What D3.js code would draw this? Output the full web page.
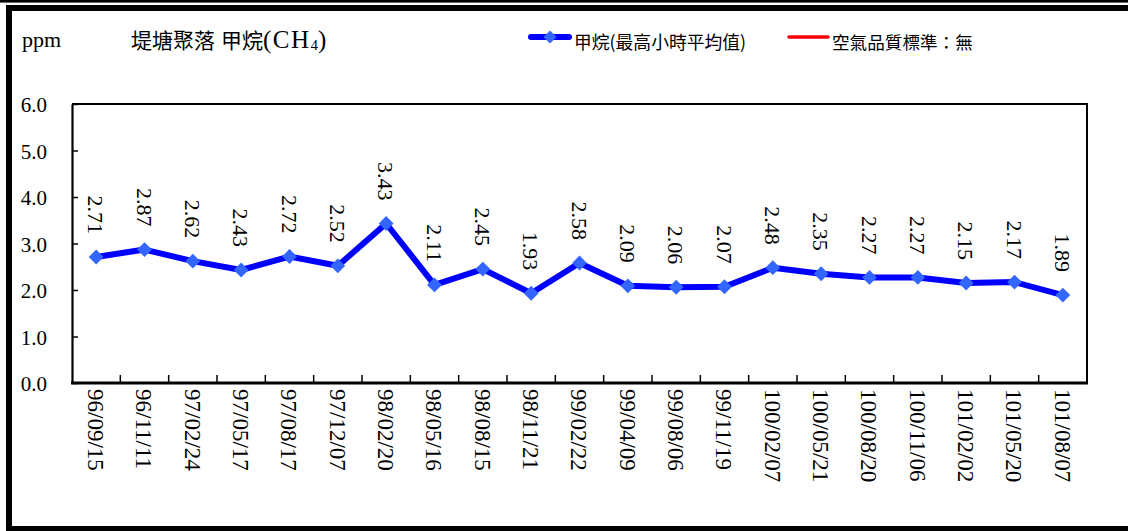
<!DOCTYPE html>
<html>
<head>
<meta charset="utf-8">
<script src="https://cdn.jsdelivr.net/npm/d3@7"></script>
<style>
  html, body { margin: 0; padding: 0; background: #fff; }
  svg { display: block; }
</style>
</head>
<body>
<svg id="chart" width="1128" height="531"></svg>
<script>
// Sampling dates (ROC calendar) and hourly-max methane readings, ppm
const dates = [
  "96/09/15", "96/11/11", "97/02/24", "97/05/17", "97/08/17", "97/12/07",
  "98/02/20", "98/05/16", "98/08/15", "98/11/21", "99/02/22", "99/04/09",
  "99/08/06", "99/11/19", "100/02/07", "100/05/21", "100/08/20", "100/11/06",
  "101/02/02", "101/05/20", "101/08/07"
];
const methane = [
  2.71, 2.87, 2.62, 2.43, 2.72, 2.52,
  3.43, 2.11, 2.45, 1.93, 2.58, 2.09,
  2.06, 2.07, 2.48, 2.35, 2.27, 2.27,
  2.15, 2.17, 1.89
];
const yTicks = [0, 1, 2, 3, 4, 5, 6];
const legendLabels = ["甲烷(最高小時平均值)", "空氣品質標準：無"];

const svg = d3.select("#chart");
const serif = "'Liberation Serif', 'Times New Roman', serif";
const cjk = "'Noto Sans CJK TC', 'Noto Sans CJK SC', sans-serif";

// Outer frame
svg.append("rect").attr("x", 0).attr("y", 0).attr("width", 1128).attr("height", 2.6).attr("fill", "#000");
svg.append("rect")
  .attr("x", 9).attr("y", 8).attr("width", 1140).attr("height", 521)
  .attr("fill", "none").attr("stroke", "#000").attr("stroke-width", 6);

// Plot area
const plot = { left: 72, right: 1087, top: 104, bottom: 383 };

const x = d3.scaleBand().domain(dates).range([plot.left, plot.right]).padding(0);
const y = d3.scaleLinear().domain([0, 6]).range([plot.bottom, plot.top]);

// Plot frame (top and right)
svg.append("path")
  .attr("d", `M${plot.left},${plot.top}H${plot.right}V${plot.bottom}`)
  .attr("fill", "none").attr("stroke", "#000").attr("stroke-width", 2);

// Y axis
const yAxis = svg.append("g")
  .attr("transform", `translate(${plot.left},0)`)
  .call(d3.axisLeft(y).tickValues(yTicks).tickFormat(d3.format(".1f")).tickSizeInner(-6).tickSizeOuter(0).tickPadding(25));
yAxis.select(".domain").attr("stroke-width", 2.2);
yAxis.selectAll(".tick line").attr("stroke-width", 1.5);
yAxis.selectAll(".tick text")
  .attr("font-family", serif).attr("font-size", 21).attr("fill", "#000").attr("dy", "0.36em");

// X axis: ticks sit on the band boundaries, pointing up into the plot
const xAxisG = svg.append("g").attr("transform", `translate(0,${plot.bottom})`);
xAxisG.append("line")
  .attr("x1", plot.left - 1).attr("x2", plot.right + 1)
  .attr("stroke", "#000").attr("stroke-width", 3);
xAxisG.selectAll("line.tick")
  .data(dates.slice(1))
  .join("line")
  .attr("class", "tick")
  .attr("x1", d => x(d)).attr("x2", d => x(d))
  .attr("y1", 0).attr("y2", -8)
  .attr("stroke", "#000").attr("stroke-width", 1.5);
xAxisG.selectAll("text")
  .data(dates)
  .join("text")
  .attr("transform", d => `translate(${x(d) + x.bandwidth() / 2},6) rotate(90)`)
  .attr("dy", "0.35em")
  .attr("text-anchor", "start")
  .attr("font-family", serif).attr("font-size", 23).attr("fill", "#000")
  .text(d => d);

// Series line
const cx = (d, i) => x(dates[i]) + x.bandwidth() / 2;
const line = d3.line().x((d, i) => cx(d, i)).y(d => y(d));
svg.append("path")
  .datum(methane)
  .attr("d", line)
  .attr("fill", "none").attr("stroke", "#0000FF").attr("stroke-width", 6)
  .attr("stroke-linejoin", "round");

// Diamond markers
svg.selectAll("path.marker")
  .data(methane)
  .join("path")
  .attr("class", "marker")
  .attr("transform", (d, i) => `translate(${cx(d, i)},${y(d)}) rotate(45)`)
  .attr("d", d3.symbol().type(d3.symbolSquare).size(110))
  .attr("fill", "#3366FF");

// Value labels, rotated, ending just above each point
svg.selectAll("text.value")
  .data(methane)
  .join("text")
  .attr("class", "value")
  .attr("transform", (d, i) => `translate(${cx(d, i)},${y(d) - 23}) rotate(90)`)
  .attr("dy", "0.35em")
  .attr("text-anchor", "end")
  .attr("font-family", serif).attr("font-size", 22).attr("fill", "#000")
  .text(d => d.toFixed(2));

// Unit label and title
svg.append("text")
  .attr("x", 22).attr("y", 47)
  .attr("font-family", serif).attr("font-size", 22).attr("fill", "#000")
  .text("ppm");

const title = svg.append("text")
  .attr("x", 131).attr("y", 48)
  .attr("font-family", cjk).attr("font-size", 21).attr("fill", "#000");
title.append("tspan").text("堤塘聚落");
title.append("tspan").attr("dx", 6).text("甲烷");
title.append("tspan").attr("font-family", serif).attr("font-size", 25).attr("letter-spacing", 1.5).text("(CH");
title.append("tspan").attr("font-family", serif).attr("font-size", 15).attr("dy", 2).text("4");
title.append("tspan").attr("font-family", serif).attr("font-size", 25).attr("dy", -2).text(")");

// Legend
const legend = svg.append("g");
legend.append("line")
  .attr("x1", 531).attr("x2", 569).attr("y1", 37).attr("y2", 37)
  .attr("stroke", "#0000FF").attr("stroke-width", 6).attr("stroke-linecap", "round");
legend.append("path")
  .attr("transform", "translate(550,37) rotate(45)")
  .attr("d", d3.symbol().type(d3.symbolSquare).size(85))
  .attr("fill", "#3366FF");
legend.append("text")
  .attr("x", 574).attr("y", 49)
  .attr("font-family", cjk).attr("font-size", 17.8).attr("fill", "#000")
  .text(legendLabels[0]);
legend.append("line")
  .attr("x1", 789).attr("x2", 828).attr("y1", 37).attr("y2", 37)
  .attr("stroke", "#FF0000").attr("stroke-width", 3.5).attr("stroke-linecap", "round");
legend.append("text")
  .attr("x", 832).attr("y", 49)
  .attr("font-family", cjk).attr("font-size", 17.6).attr("fill", "#000")
  .text(legendLabels[1]);
</script>
</body>
</html>
